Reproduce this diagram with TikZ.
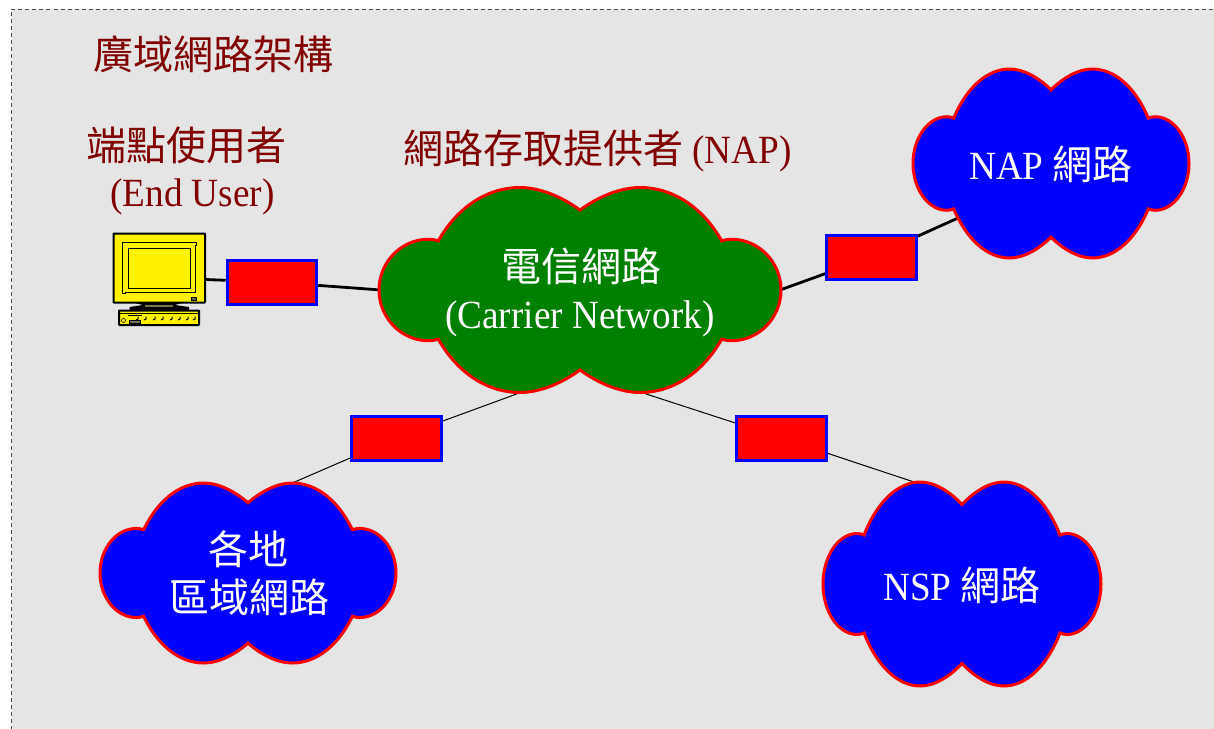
\documentclass[tikz,border=0pt]{standalone}
\usepackage{fontspec}
\setmainfont[FakeStretch=0.93]{Liberation Serif}
\newfontfamily\cjk{Noto Sans CJK TC}
\usetikzlibrary{backgrounds}
\definecolor{panelgray}{HTML}{E5E5E5}
\definecolor{titlered}{HTML}{800000}
\definecolor{cloudgreen}{HTML}{008000}
\tikzset{
  x=1pt,y=-1pt,
  txt/.style={inner sep=0pt,font=\fontsize{40}{46}\selectfont,align=center},
  titletxt/.style={txt,text=titlered},
  cloudtxt/.style={txt,text=white},
  portbox/.style={draw=blue,fill=red,line width=3pt,minimum width=89.5pt,minimum height=44pt,inner sep=0pt},
  thicklink/.style={draw=black,line width=2.8pt},
  thinlink/.style={draw=black,line width=1pt},
  cloudline/.style={draw=red,line width=3pt,line join=miter},
  pcline/.style={draw=black,line width=2pt}
}
\newcommand{\cloudshape}[5]{%
  \begin{scope}[shift={(#1,#2)},x=#3pt,y=#4pt]
  \path[cloudline,fill=#5]
   (0,.78) .. controls (-.09,.91) and (-.2,1) .. (-.3,1)
   .. controls (-.46,1) and (-.61,.81) .. (-.705,.48)
   .. controls (-.72,.49) and (-.74,.495) .. (-.755,.495)
   .. controls (-.89,.495) and (-1,.27) .. (-1,0)
   .. controls (-1,-.27) and (-.89,-.495) .. (-.755,-.495)
   .. controls (-.74,-.495) and (-.72,-.49) .. (-.705,-.48)
   .. controls (-.61,-.81) and (-.46,-1) .. (-.3,-1)
   .. controls (-.2,-1) and (-.09,-.91) .. (0,-.78)
   .. controls (.09,-.91) and (.2,-1) .. (.3,-1)
   .. controls (.46,-1) and (.61,-.81) .. (.705,-.48)
   .. controls (.72,-.49) and (.74,-.495) .. (.755,-.495)
   .. controls (.89,-.495) and (1,-.27) .. (1,0)
   .. controls (1,.27) and (.89,.495) .. (.755,.495)
   .. controls (.74,.495) and (.72,.49) .. (.705,.48)
   .. controls (.61,.81) and (.46,1) .. (.3,1)
   .. controls (.2,1) and (.09,.91) .. (0,.78) -- cycle;
  \end{scope}}
\begin{document}
\begin{tikzpicture}
\useasboundingbox (0,0) rectangle (1214,728);
\begin{pgfonlayer}{background}
  \path[fill=panelgray] (11.5,9) rectangle (1216,730);
  \draw[black!70,line width=1pt,dash pattern=on 4pt off 3pt] (11.5,730) -- (11.5,9) -- (1216,9);
\end{pgfonlayer}

% ports
\node[portbox] (r1) at (272,282) {};
\node[portbox] (r2) at (871.5,257) {};
\node[portbox] (r3) at (396.5,438) {};
\node[portbox] (r4) at (781.5,438) {};

% connector ends on the cloud outlines and the computer
\coordinate (pcport) at (205,279.5);
\coordinate (cw) at (381,290);
\coordinate (ce) at (780,290);
\coordinate (csw) at (522,392);
\coordinate (cse) at (640,392);
\coordinate (napw) at (958,218);
\coordinate (locne) at (290,484);
\coordinate (nspn) at (920,484);

\begin{pgfonlayer}{background}
  \draw[thicklink] (pcport) -- (r1);
  \draw[thicklink] (r1) -- (cw);
  \draw[thicklink] (ce) -- (r2);
  \draw[thicklink] (r2) -- (napw);
  \draw[thinlink] (csw) -- (r3);
  \draw[thinlink] (r3) -- (locne);
  \draw[thinlink] (cse) -- (r4);
  \draw[thinlink] (r4) -- (nspn);
\end{pgfonlayer}

% clouds
\cloudshape{580}{290}{201}{102.5}{cloudgreen}
\cloudshape{1051}{163.5}{138}{94.5}{blue}
\cloudshape{248}{573}{148}{90}{blue}
\cloudshape{962}{584}{139}{102}{blue}

% computer
\path[pcline,fill=yellow,rounded corners=0.5pt] (113.5,233.5) rectangle (205,302.5);
\path[draw=black,line width=1pt] (122.5,242.5) -- (196,242.5) -- (196,245) -- (195,245) -- (195,292) -- (125,292) -- (125,293.5) -- (122.5,293.5) -- cycle;
\path[draw=black,line width=1pt] (128.5,248.5) rectangle (190,288);
\path[fill=black!70!yellow,draw=black,line width=0.5pt] (191,297.5) rectangle (196,300);
\path[fill=black] (131,302) -- (185,302) -- (175,305) -- (189,307) -- (189,311) -- (129.5,311) -- (129.5,307) -- (143,305) -- cycle;
\path[fill=black!60!yellow] (145,305) rectangle (173,307);
\path[pcline,fill=yellow,rounded corners=0.5pt] (119,310.5) rectangle (199,325);
\draw[black,line width=0.8pt] (120,313.5) -- (198,313.5);
\draw[black,line width=0.8pt] (128,315) -- (142,315);
\draw[black,line width=0.8pt,fill=black!60!yellow] (129,320) rectangle (140,323);
\draw[black,line width=0.6pt] (123.5,320.5) circle (2pt);
\foreach \kx in {138,146,155,163,172,180,188,195}{
  \draw[black,line width=1pt] (\kx,316.5) -- (\kx,319) -- (\kx-2,320);
}

% texts
\node[titletxt] (title) at (213.5,54) {\cjk 廣域網路架構};
\node[titletxt] (eu1) at (186,145) {\cjk 端點使用者};
\node[titletxt] (eu2) at (192.5,196.5) {(End User)};
\node[titletxt] (nap) at (597.5,151) {\cjk 網路存取提供者\rm{} (NAP)};
\node[cloudtxt] (c1) at (581,266) {\cjk 電信網路};
\node[cloudtxt] (c2) at (580,319) {(Carrier Network)};
\node[cloudtxt] (napc) at (1051,164) {NAP {\cjk 網路}};
\node[cloudtxt] (loc1) at (248,549) {\cjk 各地};
\node[cloudtxt] (loc2) at (249,597) {\cjk 區域網路};
\node[cloudtxt] (nspc) at (962,585) {NSP {\cjk 網路}};
\end{tikzpicture}
\end{document}
